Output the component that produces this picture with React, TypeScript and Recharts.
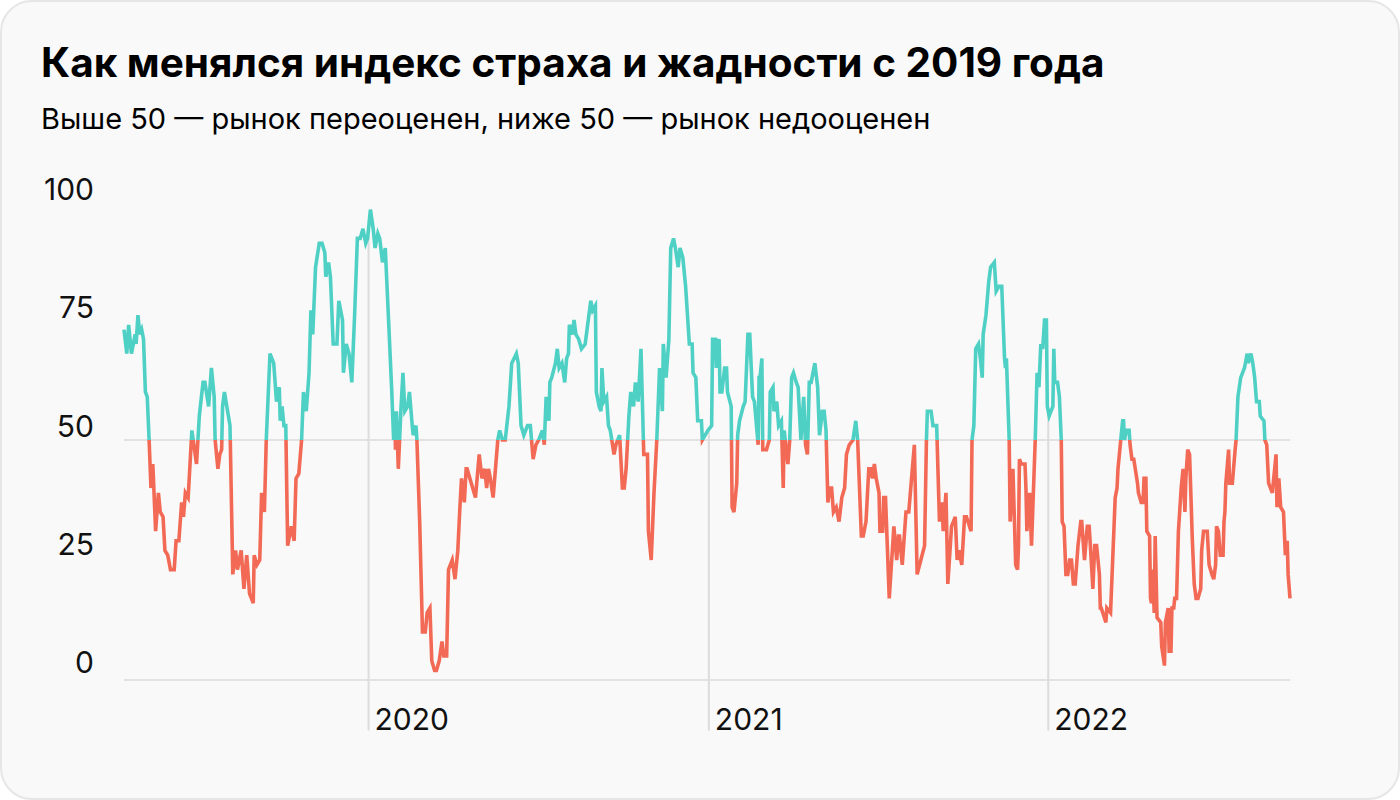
import React from 'react';
import { LineChart, Line, XAxis, YAxis, CartesianGrid, ReferenceLine } from 'recharts';

const TITLE = 'Как менялся индекс страха и жадности с 2019 года';
const SUBTITLE = 'Выше 50 — рынок переоценен, ниже 50 — рынок недооценен';

const valueTicks = [0, 25, 50, 75, 100];
const yearTicks = ['2020-01-01', '2021-01-01', '2022-01-01'];
const NEUTRAL = 50;

// [месяц-день, значение индекса]
const points2019: [string, number][] = [
  ['04-13', 73], ['04-16', 68], ['04-18', 74], ['04-21', 68], ['04-25', 72], ['04-26', 70],
  ['04-28', 76], ['04-30', 72], ['05-02', 73], ['05-04', 71], ['05-06', 60], ['05-08', 59],
  ['05-10', 50], ['05-12', 40], ['05-14', 45], ['05-17', 31], ['05-20', 39], ['05-22', 35],
  ['05-25', 34], ['05-27', 27], ['05-30', 26], ['06-02', 23], ['06-06', 23], ['06-08', 29],
  ['06-11', 29], ['06-14', 37], ['06-16', 34], ['06-18', 39], ['06-21', 38], ['06-23', 45],
  ['06-25', 52], ['06-30', 45], ['07-03', 55], ['07-07', 62], ['07-09', 62], ['07-13', 57],
  ['07-16', 65], ['07-19', 59], ['07-20', 50], ['07-23', 44], ['07-25', 47], ['07-27', 48],
  ['07-28', 57], ['07-30', 60], ['08-05', 53], ['08-08', 22], ['08-11', 27], ['08-13', 23],
  ['08-17', 27], ['08-20', 19], ['08-23', 26], ['08-26', 18], ['08-30', 16], ['08-31', 26],
  ['09-03', 24], ['09-06', 25], ['09-08', 39], ['09-11', 35], ['09-13', 50], ['09-17', 68],
  ['09-21', 66], ['09-24', 58], ['09-27', 61], ['09-28', 54], ['09-30', 57], ['10-02', 53],
  ['10-04', 53], ['10-06', 28], ['10-10', 32], ['10-13', 29], ['10-15', 42], ['10-18', 43],
  ['10-21', 50], ['10-23', 60], ['10-26', 56], ['10-29', 64], ['10-31', 77], ['11-02', 72],
  ['11-05', 86], ['11-09', 91], ['11-12', 91], ['11-15', 89], ['11-16', 84], ['11-19', 87],
  ['11-21', 84], ['11-24', 70], ['11-28', 70], ['11-30', 79], ['12-04', 75], ['12-05', 64],
  ['12-08', 70], ['12-11', 68], ['12-14', 62], ['12-17', 76], ['12-20', 92], ['12-23', 92],
  ['12-26', 94], ['12-29', 91], ['12-31', 92],
];

const points2020: [string, number][] = [
  ['01-03', 98], ['01-06', 94], ['01-08', 90], ['01-11', 93], ['01-13', 92], ['01-16', 87],
  ['01-19', 90], ['01-23', 73], ['01-26', 60], ['01-28', 50], ['01-29', 56], ['01-30', 48],
  ['01-31', 56], ['02-02', 44], ['02-05', 57], ['02-07', 64], ['02-09', 56], ['02-12', 57],
  ['02-14', 60], ['02-17', 53], ['02-18', 51], ['02-21', 53], ['02-22', 50], ['02-25', 33],
  ['02-28', 10], ['03-02', 10], ['03-04', 14], ['03-07', 15], ['03-09', 4], ['03-12', 2],
  ['03-14', 2], ['03-17', 4], ['03-20', 8], ['03-22', 5], ['03-25', 5], ['03-27', 23],
  ['03-31', 25], ['04-03', 21], ['04-06', 27], ['04-08', 35], ['04-10', 42], ['04-13', 37],
  ['04-15', 44], ['04-16', 44], ['04-22', 40], ['04-25', 38], ['04-29', 47], ['05-02', 42],
  ['05-05', 44], ['05-07', 40], ['05-09', 44], ['05-11', 42], ['05-14', 38], ['05-19', 50],
  ['05-21', 52], ['05-24', 50], ['05-27', 50], ['05-31', 57], ['06-03', 66], ['06-08', 68],
  ['06-10', 66], ['06-13', 53], ['06-16', 51], ['06-20', 53], ['06-23', 53], ['06-26', 46],
  ['06-29', 49], ['07-02', 50], ['07-06', 52], ['07-08', 49], ['07-10', 59], ['07-13', 54],
  ['07-14', 62], ['07-16', 63], ['07-20', 66], ['07-22', 69], ['07-24', 65], ['07-27', 66],
  ['07-30', 62], ['08-01', 67], ['08-03', 68], ['08-04', 74], ['08-07', 72], ['08-09', 75],
  ['08-11', 72], ['08-14', 71], ['08-17', 69], ['08-21', 70], ['08-23', 73], ['08-27', 79],
  ['08-29', 77], ['09-01', 78], ['09-02', 60], ['09-05', 57], ['09-07', 56], ['09-08', 65],
  ['09-10', 58], ['09-13', 59], ['09-15', 53], ['09-17', 52], ['09-21', 47], ['09-23', 49],
  ['09-27', 51], ['09-30', 40], ['10-02', 40], ['10-04', 44], ['10-07', 55], ['10-09', 60],
  ['10-12', 57], ['10-14', 62], ['10-17', 58], ['10-20', 69], ['10-23', 47], ['10-27', 47],
  ['10-28', 31], ['10-31', 25], ['11-03', 39], ['11-06', 50], ['11-09', 65], ['11-12', 56],
  ['11-13', 70], ['11-16', 63], ['11-19', 71], ['11-21', 90], ['11-24', 92], ['11-26', 90],
  ['11-29', 86], ['12-01', 90], ['12-04', 88], ['12-07', 82], ['12-11', 70], ['12-14', 70],
  ['12-15', 64], ['12-18', 63], ['12-20', 54], ['12-24', 54], ['12-25', 50], ['12-28', 51],
  ['12-31', 52],
];

const points2021: [string, number][] = [
  ['01-04', 53], ['01-05', 71], ['01-08', 71], ['01-09', 65], ['01-10', 70], ['01-12', 71],
  ['01-13', 60], ['01-15', 60], ['01-18', 65], ['01-20', 65], ['01-21', 60], ['01-25', 57],
  ['01-26', 36], ['01-28', 35], ['01-31', 41], ['02-01', 51], ['02-03', 54], ['02-07', 57],
  ['02-09', 58], ['02-12', 72], ['02-14', 72], ['02-17', 59], ['02-19', 58], ['02-23', 49],
  ['02-24', 63], ['02-25', 63], ['02-27', 67], ['02-28', 48], ['03-04', 48], ['03-07', 50],
  ['03-08', 60], ['03-11', 61], ['03-12', 56], ['03-15', 58], ['03-17', 53], ['03-20', 54],
  ['03-22', 40], ['03-23', 52], ['03-27', 45], ['03-29', 50], ['03-31', 63], ['04-02', 64],
  ['04-05', 62], ['04-07', 61], ['04-10', 50], ['04-13', 59], ['04-15', 49], ['04-17', 47],
  ['04-19', 62], ['04-21', 62], ['04-25', 66], ['04-28', 61], ['04-30', 51], ['05-03', 56],
  ['05-05', 56], ['05-07', 52], ['05-09', 37], ['05-11', 40], ['05-13', 40], ['05-15', 35],
  ['05-18', 36], ['05-21', 33], ['05-24', 38], ['05-27', 40], ['05-29', 47], ['06-01', 49],
  ['06-05', 50], ['06-08', 54], ['06-10', 50], ['06-12', 40], ['06-14', 30], ['06-16', 30],
  ['06-19', 33], ['06-22', 44], ['06-24', 44], ['06-26', 42], ['06-28', 45], ['06-30', 42],
  ['07-03', 39], ['07-04', 31], ['07-07', 31], ['07-08', 38], ['07-10', 38], ['07-14', 17],
  ['07-19', 32], ['07-22', 25], ['07-24', 30], ['07-25', 30], ['07-28', 24], ['08-01', 35],
  ['08-04', 35], ['08-07', 42], ['08-10', 49], ['08-13', 22], ['08-17', 25], ['08-21', 28],
  ['08-23', 50], ['08-24', 56], ['08-28', 56], ['08-30', 53], ['09-03', 53], ['09-06', 33],
  ['09-09', 37], ['09-10', 31], ['09-13', 39], ['09-15', 20], ['09-19', 32], ['09-23', 34],
  ['09-25', 25], ['09-27', 27], ['09-30', 24], ['10-03', 34], ['10-05', 34], ['10-10', 31],
  ['10-11', 50], ['10-13', 53], ['10-15', 69], ['10-18', 70], ['10-20', 67], ['10-22', 63],
  ['10-23', 72], ['10-26', 76], ['10-29', 83], ['10-31', 86], ['11-04', 87], ['11-06', 81],
  ['11-09', 82], ['11-12', 82], ['11-15', 67], ['11-16', 65], ['11-17', 67], ['11-20', 50],
  ['11-21', 33], ['11-24', 44], ['11-27', 24], ['11-29', 23], ['11-30', 28], ['12-01', 46],
  ['12-03', 45], ['12-07', 45], ['12-08', 40], ['12-09', 31], ['12-12', 39], ['12-14', 28],
  ['12-18', 50], ['12-20', 64], ['12-22', 61], ['12-24', 70], ['12-26', 69], ['12-28', 75],
  ['12-30', 75], ['12-31', 57],
];

const points2022: [string, number][] = [
  ['01-02', 55], ['01-04', 56], ['01-06', 57], ['01-07', 69], ['01-08', 62], ['01-11', 62],
  ['01-13', 59], ['01-15', 50], ['01-16', 33], ['01-18', 32], ['01-20', 22], ['01-22', 22],
  ['01-24', 25], ['01-26', 25], ['01-28', 20], ['01-30', 20], ['02-02', 28], ['02-05', 33],
  ['02-06', 33], ['02-09', 25], ['02-12', 32], ['02-14', 32], ['02-15', 29], ['02-18', 19],
  ['02-20', 28], ['02-22', 28], ['02-25', 22], ['02-26', 15], ['02-27', 15], ['03-04', 12],
  ['03-05', 15], ['03-09', 14], ['03-14', 38], ['03-16', 40], ['03-17', 44], ['03-20', 50],
  ['03-22', 54], ['03-23', 54], ['03-24', 50], ['03-26', 52], ['03-29', 52], ['03-30', 49],
  ['04-01', 46], ['04-03', 46], ['04-07', 41], ['04-08', 39], ['04-11', 37], ['04-13', 37],
  ['04-14', 42], ['04-16', 42], ['04-17', 31], ['04-20', 30], ['04-21', 17], ['04-22', 16],
  ['04-23', 23], ['04-25', 14], ['04-26', 30], ['04-28', 13], ['05-02', 12], ['05-03', 7],
  ['05-06', 3], ['05-07', 12], ['05-10', 15], ['05-11', 6], ['05-13', 6], ['05-14', 15],
  ['05-16', 15], ['05-17', 17], ['05-19', 17], ['05-21', 31], ['05-24', 40], ['05-26', 44],
  ['05-28', 35], ['05-29', 42], ['05-31', 48], ['06-02', 47], ['06-05', 29], ['06-07', 20],
  ['06-09', 17], ['06-11', 17], ['06-14', 19], ['06-15', 27], ['06-17', 31], ['06-21', 31],
  ['06-23', 24], ['06-26', 22], ['06-28', 21], ['06-30', 24], ['07-01', 32], ['07-03', 31],
  ['07-05', 26], ['07-08', 26], ['07-09', 33], ['07-10', 35], ['07-11', 41], ['07-14', 48],
  ['07-15', 41], ['07-18', 41], ['07-21', 48], ['07-22', 50], ['07-24', 59], ['07-27', 63],
  ['07-29', 64], ['07-31', 65], ['08-03', 68], ['08-04', 66], ['08-07', 68], ['08-09', 66],
  ['08-11', 63], ['08-13', 58], ['08-16', 58], ['08-17', 55], ['08-21', 54], ['08-22', 50],
  ['08-24', 49], ['08-26', 41], ['08-30', 39], ['08-31', 41], ['09-03', 47], ['09-04', 36],
  ['09-06', 42], ['09-08', 36], ['09-11', 35], ['09-13', 26], ['09-15', 29], ['09-16', 22],
  ['09-18', 17],
];

const byYear: [number, [string, number][]][] = [
  [2019, points2019],
  [2020, points2020],
  [2021, points2021],
  [2022, points2022],
];

const data = byYear.flatMap(([year, pts]) =>
  pts.map(([md, value]) => ({ t: Date.parse(`${year}-${md}`), value }))
);

const yearTickValues = yearTicks.map((d) => Date.parse(d));

// значение линии в момент t (для вертикальных линий по годам)
const valueAt = (t: number) => {
  for (let i = 1; i < data.length; i++) {
    if (data[i].t >= t) {
      const a = data[i - 1];
      const b = data[i];
      return a.value + ((b.value - a.value) * (t - a.t)) / (b.t - a.t);
    }
  }
  return data[data.length - 1].value;
};

const values = data.map((d) => d.value);
const vMax = Math.max(...values);
const vMin = Math.min(...values);
const splitOffset = (vMax - NEUTRAL) / (vMax - vMin);

const GREED = '#4fd0c5';
const FEAR = '#f26a56';
const GRID = '#e2e2e2';
const FONT = 'Inter, "Noto Sans", sans-serif';

const ValueTick = (props: any) => {
  const { y, payload } = props;
  const v = payload.value as number;
  return (
    <text x={94} y={y - 7 + v * 0.07} textAnchor="end" fontSize={30} fill="#111" fontFamily={FONT}>
      {v}
    </text>
  );
};

const YearTick = (props: any) => {
  const { x, payload } = props;
  return (
    <text x={x + 6} y={730} textAnchor="start" fontSize={30} fill="#111" fontFamily={FONT}>
      {new Date(payload.value).getUTCFullYear()}
    </text>
  );
};

export default function App() {
  return (
    <div style={{ position: 'absolute', left: 0, top: 0, width: 1400, height: 800 }}>
      <div
        style={{
          position: 'absolute',
          left: 0,
          top: 0,
          width: 1400,
          height: 800,
          boxSizing: 'border-box',
          border: '2px solid #e6e6e6',
          borderRadius: 32,
          background: '#f9f9f9',
        }}
      />
      <svg width={1400} height={160} style={{ position: 'absolute', left: 0, top: 0 }}>
        <text x={41} y={77} fontSize={40.5} fontWeight={700} fill="#000" fontFamily={FONT}>
          {TITLE}
        </text>
        <text x={41} y={129} fontSize={29} fill="#000" fontFamily={FONT}>
          {SUBTITLE}
        </text>
      </svg>
      <div style={{ position: 'absolute', left: 0, top: 0 }}>
        <LineChart width={1400} height={800} data={data} margin={{ top: 200, right: 110, bottom: 60, left: 0 }}>
          <defs>
            <linearGradient id="fearGreed" x1="0" y1="0" x2="0" y2="1">
              <stop offset={splitOffset} stopColor={GREED} />
              <stop offset={splitOffset} stopColor={FEAR} />
            </linearGradient>
          </defs>
          <CartesianGrid vertical={false} horizontalValues={[0, NEUTRAL]} stroke={GRID} strokeWidth={2} />
          <XAxis
            dataKey="t"
            type="number"
            domain={['dataMin', 'dataMax']}
            ticks={yearTickValues}
            interval={0}
            tick={YearTick}
            axisLine={false}
            tickLine={false}
            height={60}
          />
          <YAxis
            domain={[0, 100]}
            ticks={valueTicks}
            interval={0}
            tick={ValueTick}
            axisLine={false}
            tickLine={false}
            width={124}
          />
          {yearTickValues.map((t) => (
            <ReferenceLine
              key={t}
              segment={[{ x: t, y: valueAt(t) }, { x: t, y: -10.5 }]}
              stroke="#dcdcdc"
              strokeWidth={2}
              ifOverflow="visible"
            />
          ))}
          <Line
            type="linear"
            dataKey="value"
            stroke="url(#fearGreed)"
            strokeWidth={3.6}
            dot={false}
            activeDot={false}
            isAnimationActive={false}
          />
        </LineChart>
      </div>
    </div>
  );
}
